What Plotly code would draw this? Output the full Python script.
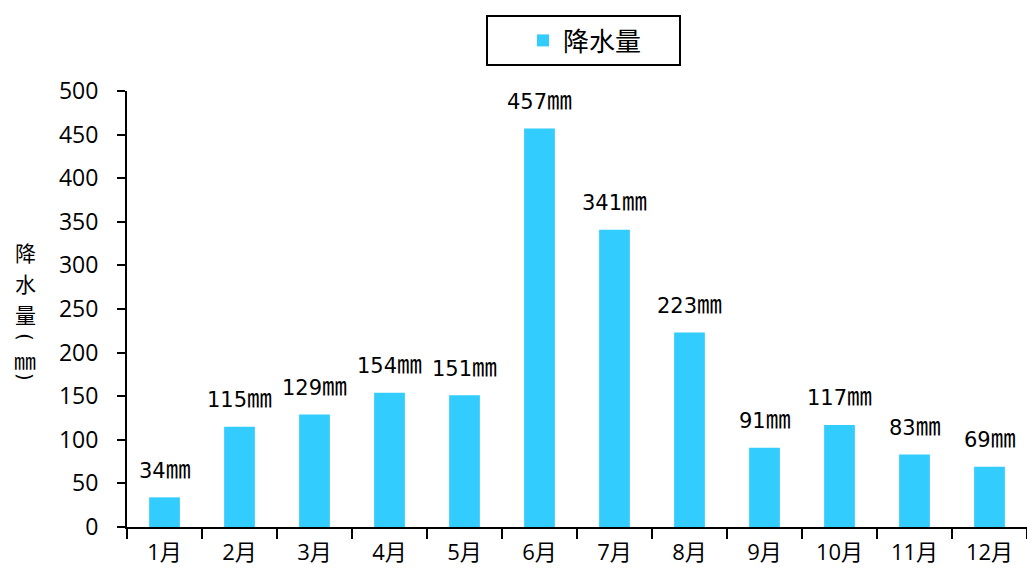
import plotly.graph_objects as go

# Monthly precipitation
months = ["1月", "2月", "3月", "4月", "5月", "6月", "7月", "8月", "9月", "10月", "11月", "12月"]
rainfall = [34, 115, 129, 154, 151, 457, 341, 223, 91, 117, 83, 69]
y_ticks = [0, 50, 100, 150, 200, 250, 300, 350, 400, 450, 500]

TICK_FONT = "Open Sans, Noto Sans CJK SC"
LABEL_FONT = "DejaVu Sans, Noto Sans CJK SC"
CJK_FONT = "Noto Sans CJK SC"
BAR_COLOR = "#33CCFF"

W, H = 1027, 573
ML, MR, MT, MB = 127, 0, 91, 46
PW, PH = W - ML - MR, H - MT - MB


def px_x(px):
    return (px - ML) / PW


def px_y(py):
    return (H - MB - py) / PH


fig = go.Figure()
fig.add_trace(go.Bar(
    x=months,
    y=rainfall,
    name="降水量",
    marker=dict(color=BAR_COLOR, line=dict(width=0)),
))

# value labels above each bar
for m, v in zip(months, rainfall):
    fig.add_annotation(
        x=m, y=v, text=f"{v}<span style='font-size:25px'>㎜</span>",
        showarrow=False, yanchor="middle", yshift=28,
        font=dict(family=LABEL_FONT, size=21, color="black"),
    )

# vertical y-axis title: glyphs stacked top to bottom,
# brackets drawn as rotated parentheses
title_parts = [
    ("降", 252, 0, CJK_FONT, 21),
    ("水", 283, 0, CJK_FONT, 21),
    ("量", 314, 0, CJK_FONT, 21),
    ("(", 337, 90, "DejaVu Sans", 20),
    ("㎜", 359, 0, CJK_FONT, 22),
    (")", 377, 90, "DejaVu Sans", 20),
]
for ch, py, ang, fam, size in title_parts:
    fig.add_annotation(
        xref="paper", yref="paper",
        x=px_x(25), y=px_y(py),
        text=ch, showarrow=False, textangle=ang,
        xanchor="center", yanchor="middle",
        font=dict(family=fam, size=size, color="black"),
    )

fig.update_layout(
    width=W, height=H,
    margin=dict(l=ML, r=MR, t=MT, b=MB),
    paper_bgcolor="white",
    plot_bgcolor="white",
    bargap=0.59,
    font=dict(family=TICK_FONT, size=23, color="black"),
    showlegend=True,
    legend=dict(
        xref="container", yref="container",
        x=486 / W, y=1 - 15 / H,
        xanchor="left", yanchor="top",
        orientation="h",
        bordercolor="black", borderwidth=2,
        font=dict(family=CJK_FONT, size=26, color="black"),
        indentation=35,
        entrywidth=111,
    ),
    xaxis=dict(
        type="category",
        automargin=False,
        showline=True, linecolor="black", linewidth=2,
        ticks="outside", tickson="boundaries", ticklen=10,
        tickcolor="black", tickwidth=2,
        showgrid=False,
        ticklabelstandoff=5,
        tickfont=dict(family=TICK_FONT, size=22, color="black"),
    ),
    yaxis=dict(
        range=[0, 500],
        automargin=False,
        tickvals=y_ticks,
        showline=True, linecolor="black", linewidth=2,
        ticks="outside", ticklen=8, tickcolor="black", tickwidth=2,
        showgrid=False, zeroline=False,
        ticklabelstandoff=14,
        tickfont=dict(family=TICK_FONT, size=23, color="black"),
    ),
)

fig.write_html("out.html")
